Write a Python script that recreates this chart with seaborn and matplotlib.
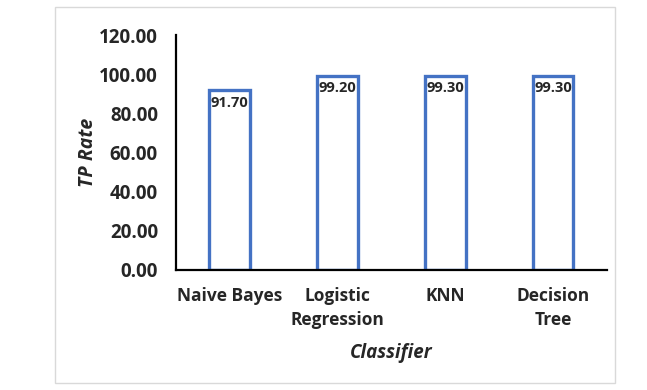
import seaborn as sns
import matplotlib.pyplot as plt
from matplotlib.patches import Rectangle
import pandas as pd

classifiers = ["Naive Bayes", "Logistic\nRegression", "KNN", "Decision\nTree"]
tp_rate = [91.70, 99.20, 99.30, 99.30]
y_ticks = [0, 20, 40, 60, 80, 100, 120]

sns.set_style("white")
plt.rcParams["font.family"] = ["Open Sans", "DejaVu Sans"]

df = pd.DataFrame({"Classifier": classifiers, "TP Rate": tp_rate})

fig = plt.figure(figsize=(6.47, 3.90), dpi=100)
ax = fig.add_axes([0.272, 0.308, 0.666, 0.602])

sns.barplot(data=df, x="Classifier", y="TP Rate", ax=ax, width=0.38,
            facecolor="white", edgecolor="#4472C4", linewidth=2.4)

for i, v in enumerate(tp_rate):
    ax.annotate(f"{v:.2f}", (i, v), xytext=(0, -4), textcoords="offset points",
                ha="center", va="top", fontsize=10.5, fontweight="bold")

ax.set_ylim(0, 120)
ax.set_yticks(y_ticks)
ax.set_yticklabels([f"{t:.2f}" for t in y_ticks], fontsize=13.5, fontweight="bold")
ax.tick_params(axis="x", length=0, pad=12)
ax.tick_params(axis="y", length=0, pad=13)
ax.set_xticks(range(len(classifiers)))
ax.set_xticklabels(classifiers, fontsize=12.5, fontweight="bold", linespacing=1.45)

ax.set_xlabel("Classifier", fontsize=13.5, fontweight="bold", fontstyle="italic", labelpad=10)
ax.set_ylabel("TP Rate", fontsize=14, fontweight="bold", fontstyle="italic", labelpad=1)

sns.despine(ax=ax, top=True, right=True)
for s in ["left", "bottom"]:
    ax.spines[s].set_color("black")
    ax.spines[s].set_linewidth(1.6)

fig.patches.append(Rectangle((55 / 647, 7 / 390), 560 / 647, 376 / 390,
                             transform=fig.transFigure, fill=False,
                             edgecolor="#d9d9d9", linewidth=1.0))

fig.savefig("out.png", dpi=100)
